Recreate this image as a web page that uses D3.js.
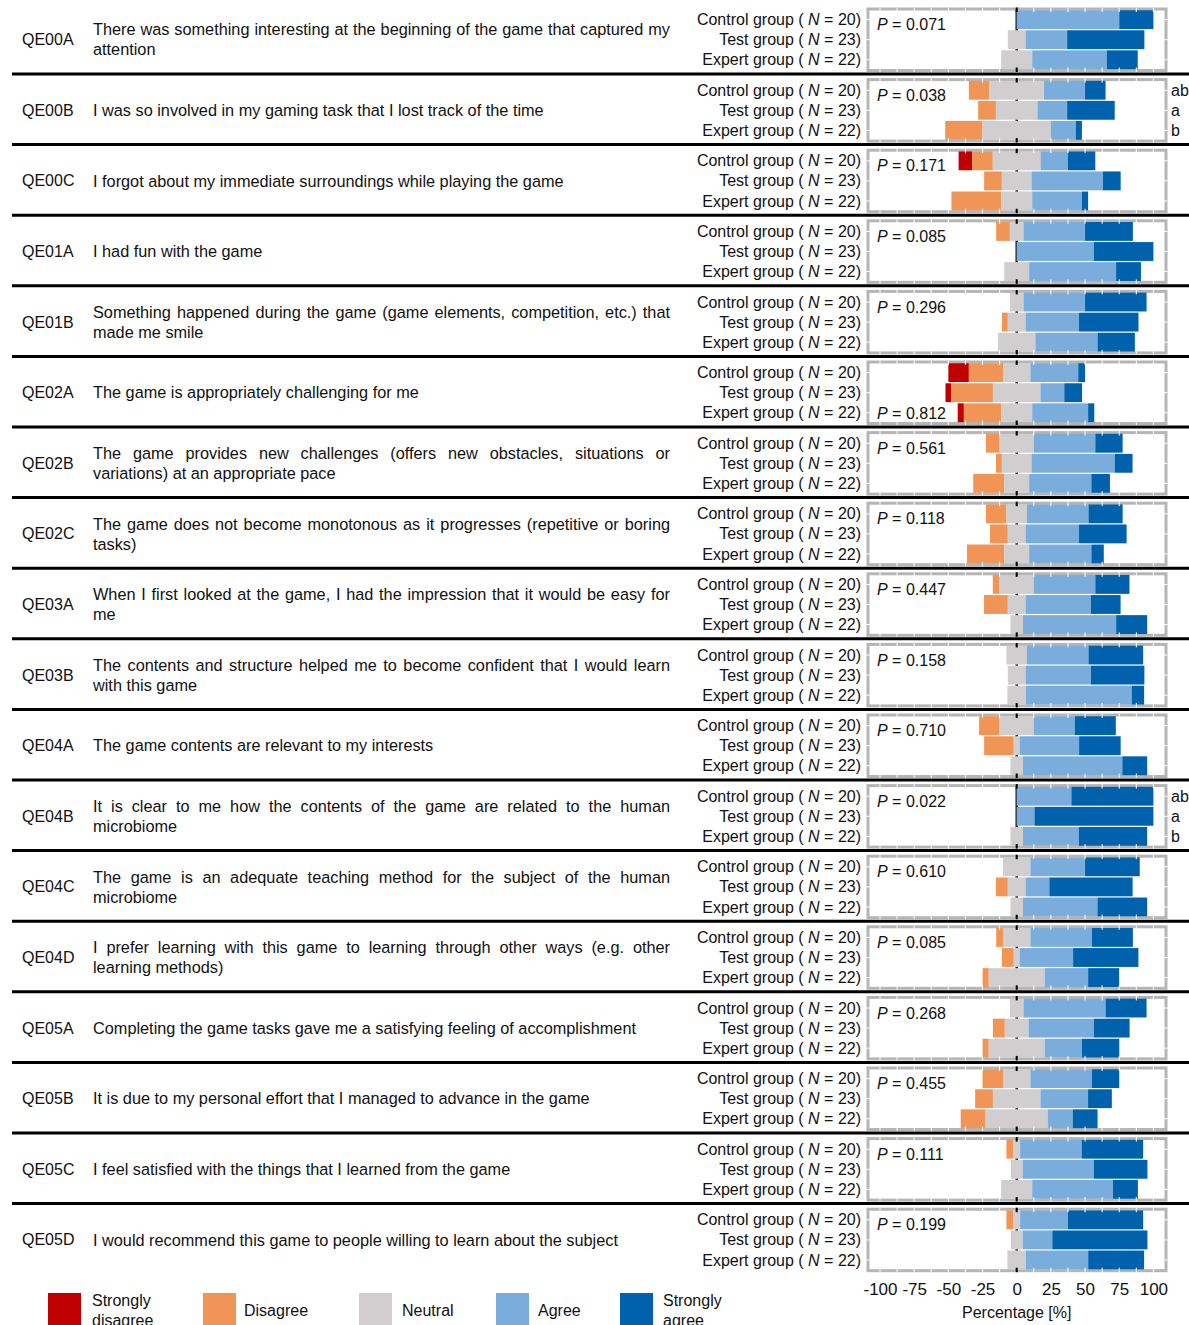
<!DOCTYPE html>
<html>
<head>
<meta charset="utf-8">
<script src="https://cdn.jsdelivr.net/npm/d3@7"></script>
<style>
  body { margin: 0; background: #fff; }
  text { font-family: Arial, "Liberation Sans", sans-serif; fill: #111; }
</style>
</head>
<body>
<svg id="chart" width="1189" height="1325"></svg>
<script>
// Item codes and question texts (line breaks as in the original)
const items = ["QE00A","QE00B","QE00C","QE01A","QE01B","QE02A","QE02B","QE02C","QE03A",
  "QE03B","QE04A","QE04B","QE04C","QE04D","QE05A","QE05B","QE05C","QE05D"];
const questions = [
  ["There was something interesting at the beginning of the game that captured my", "attention"],
  ["I was so involved in my gaming task that I lost track of the time"],
  ["I forgot about my immediate surroundings while playing the game"],
  ["I had fun with the game"],
  ["Something happened during the game (game elements, competition, etc.) that", "made me smile"],
  ["The game is appropriately challenging for me"],
  ["The game provides new challenges (offers new obstacles, situations or", "variations) at an appropriate pace"],
  ["The game does not become monotonous as it progresses (repetitive or boring", "tasks)"],
  ["When I first looked at the game, I had the impression that it would be easy for", "me"],
  ["The contents and structure helped me to become confident that I would learn", "with this game"],
  ["The game contents are relevant to my interests"],
  ["It is clear to me how the contents of the game are related to the human", "microbiome"],
  ["The game is an adequate teaching method for the subject of the human", "microbiome"],
  ["I prefer learning with this game to learning through other ways (e.g. other", "learning methods)"],
  ["Completing the game tasks gave me a satisfying feeling of accomplishment"],
  ["It is due to my personal effort that I managed to advance in the game"],
  ["I feel satisfied with the things that I learned from the game"],
  ["I would recommend this game to people willing to learn about the subject"]
];
const pValues = ["0.071","0.038","0.171","0.085","0.296","0.812","0.561","0.118","0.447",
  "0.158","0.710","0.022","0.610","0.085","0.268","0.455","0.111","0.199"];
// group that carries the P label (bars overlap it otherwise)
const pGroup = ["c","c","c","c","c","e","c","c","c","c","c","c","c","c","c","c","c","c"];
const letterItems = ["QE00B", "QE04B"];
const letters = ["ab", "a", "b"];

const groups = ["Control group", "Test group", "Expert group"];
const groupKeys = ["c", "t", "e"];
const groupN = [20, 23, 22];
const categories = ["Strongly disagree", "Disagree", "Neutral", "Agree", "Strongly agree"];
const colors = ["#c00000", "#f09555", "#d0cece", "#7aaddc", "#0062ad"];
const xTicks = [-100, -75, -50, -25, 0, 25, 50, 75, 100];

// percentages: [strongly disagree, disagree, neutral, agree, strongly agree]
const controlPct = [
  [0,0,0,75,25],[0,15,40,30,15],[10,15,35,20,20],[0,10,10,45,35],[0,0,10,45,45],
  [15,25,20,35,5],[0,10,25,45,20],[0,15,15,45,25],[0,5,25,45,25],[0,0,15,45,40],
  [0,15,25,30,30],[0,0,0,40,60],[0,0,20,40,40],[0,5,20,45,30],[0,0,10,60,30],
  [0,15,20,45,20],[0,5,5,45,45],[0,5,5,35,55]
];
const testPct = [
  [0,0,13.0,30.4,56.5],[0,13.0,30.4,21.7,34.8],[0,13.0,21.7,52.2,13.0],[0,0,0,56.5,43.5],
  [0,4.3,13.0,39.1,43.5],[4.3,30.4,34.8,17.4,13.0],[0,4.3,21.7,60.9,13.0],[0,13.0,13.0,39.1,34.8],
  [0,17.4,13.0,47.8,21.7],[0,0,13.0,47.8,39.1],[0,21.7,4.3,43.5,30.4],[0,0,0,13.0,87.0],
  [0,8.7,13.0,17.4,60.9],[0,8.7,4.3,39.1,47.8],[0,8.7,17.4,47.8,26.1],[0,13.0,34.8,34.8,17.4],
  [0,0,8.7,52.2,39.1],[0,0,8.7,21.7,69.6]
];
const expertPct = [
  [0,0,22.7,54.5,22.7],[0,27.3,50.0,18.2,4.5],[0,36.4,22.7,36.4,4.5],[0,0,18.2,63.6,18.2],
  [0,0,27.3,45.5,27.3],[4.5,27.3,22.7,40.9,4.5],[0,22.7,18.2,45.5,13.6],[0,27.3,18.2,45.5,9.1],
  [0,0,9.1,68.2,22.7],[0,0,13.6,77.3,9.1],[0,0,9.1,72.7,18.2],[0,0,9.1,40.9,50.0],
  [0,0,9.1,54.5,36.4],[0,4.5,40.9,31.8,22.7],[0,4.5,40.9,27.3,27.3],[0,18.2,45.5,18.2,18.2],
  [0,0,22.7,59.1,18.2],[0,0,13.6,45.5,40.9]
];

const svg = d3.select("#chart");

// layout
const rowStep = 70.6;
const firstRowY = 20;
const panelLeft = 868, panelRight = 1166;
const textLeft = 93, textRight = 670;

const x = d3.scaleLinear().domain([-100, 100]).range([880, 1153.4]);
const rowY = d3.scaleLinear().domain([0, 1]).range([firstRowY, firstRowY + rowStep]);
const gy = d3.scaleBand().domain(groupKeys).range([-9.8, 49.2]).paddingInner(0.06);

const pctByGroup = { c: controlPct, t: testPct, e: expertPct };

items.forEach((item, i) => {
  const y0 = rowY(i);
  const row = svg.append("g").attr("transform", `translate(0,${y0})`);

  // separator below the row
  if (i < items.length - 1) {
    row.append("line")
      .attr("x1", 12).attr("x2", 1189)
      .attr("y1", 54).attr("y2", 54)
      .attr("stroke", "#000").attr("stroke-width", 3);
  }

  // item code and question
  const midY = gy("t") + gy.bandwidth() / 2;
  row.append("text")
    .attr("x", 22).attr("y", midY).attr("dy", "0.35em")
    .style("font-size", "16px")
    .text(item);

  const lines = questions[i];
  lines.forEach((ln, k) => {
    const ly = lines.length === 1 ? midY : midY + (k === 0 ? -10 : 10);
    const t = row.append("text")
      .attr("x", textLeft).attr("y", ly).attr("dy", "0.35em")
      .style("font-size", "16.3px")
      .text(ln);
    // justify all lines but the last one
    if (lines.length > 1 && k < lines.length - 1) {
      const w = t.node().getComputedTextLength();
      const spaces = (ln.match(/ /g) || []).length;
      if (spaces > 0) t.style("word-spacing", ((textRight - textLeft - w) / spaces) + "px");
    }
  });

  // group labels
  groupKeys.forEach((gk, j) => {
    const t = row.append("text")
      .attr("x", 861).attr("y", gy(gk) + gy.bandwidth() / 2).attr("dy", "0.35em")
      .attr("text-anchor", "end")
      .style("font-size", "16px");
    t.append("tspan").text(groups[j] + " ( ");
    t.append("tspan").style("font-style", "italic").text("N");
    t.append("tspan").text(" = " + groupN[j] + ")");
  });

  // panel
  const pTop = -11, pBottom = 50.5;
  row.append("rect")
    .attr("x", panelLeft).attr("y", pTop)
    .attr("width", panelRight - panelLeft).attr("height", pBottom - pTop)
    .attr("fill", "#fff").attr("stroke", "#b5b5b5").attr("stroke-width", 3);

  // zero line behind bars
  row.append("line")
    .attr("x1", x(0)).attr("x2", x(0))
    .attr("y1", gy("c")).attr("y2", gy("e") + gy.bandwidth())
    .attr("stroke", "#222").attr("stroke-width", 2.5);

  // stacked diverging bars
  groupKeys.forEach(gk => {
    const vals = pctByGroup[gk][i];
    let start = -(vals[0] + vals[1] + vals[2] / 2);
    vals.forEach((v, c) => {
      if (v > 0) {
        row.append("rect")
          .attr("x", x(start)).attr("y", gy(gk))
          .attr("width", x(start + v) - x(start)).attr("height", gy.bandwidth())
          .attr("fill", colors[c]);
      }
      start += v;
    });
  });

  // ticks on the panel frame
  const minor = d3.range(-100, 100.1, 12.5);
  minor.forEach(v => {
    const col = v === 0 ? "#000" : "#fff";
    const sw = v === 0 ? 2 : 1;
    row.append("line").attr("x1", x(v)).attr("x2", x(v))
      .attr("y1", pTop - 1.5).attr("y2", pTop + 3)
      .attr("stroke", col).attr("stroke-width", sw);
    row.append("line").attr("x1", x(v)).attr("x2", x(v))
      .attr("y1", pBottom - 3).attr("y2", pBottom + 1.5)
      .attr("stroke", col).attr("stroke-width", sw);
  });
  groupKeys.forEach(gk => {
    const ty = gy(gk) + gy.bandwidth() / 2;
    row.append("line").attr("x1", panelLeft - 1.5).attr("x2", panelLeft + 3)
      .attr("y1", ty).attr("y2", ty).attr("stroke", "#fff");
    row.append("line").attr("x1", panelRight - 3).attr("x2", panelRight + 1.5)
      .attr("y1", ty).attr("y2", ty).attr("stroke", "#fff");
  });

  // P value
  const pOffset = pGroup[i] === "c" ? 5 : 1;
  const pt = row.append("text")
    .attr("x", 877).attr("y", gy(pGroup[i]) + gy.bandwidth() / 2 + pOffset).attr("dy", "0.35em")
    .style("font-size", "16px");
  pt.append("tspan").style("font-style", "italic").text("P");
  pt.append("tspan").text(" = " + pValues[i]);

  // significance letters
  if (letterItems.includes(item)) {
    groupKeys.forEach((gk, j) => {
      row.append("text")
        .attr("x", 1171).attr("y", gy(gk) + gy.bandwidth() / 2).attr("dy", "0.35em")
        .style("font-size", "16px")
        .text(letters[j]);
    });
  }
});

// x axis (labels only)
const axisG = svg.append("g")
  .attr("transform", "translate(0,1275)")
  .call(d3.axisBottom(x).tickValues(xTicks).tickSize(0).tickPadding(8).tickFormat(d => String(d)));
axisG.select(".domain").remove();
axisG.selectAll("text")
  .style("font-family", "Arial, 'Liberation Sans', sans-serif")
  .style("font-size", "17px")
  .attr("fill", "#222");

svg.append("text")
  .attr("x", x(0)).attr("y", 1318)
  .attr("text-anchor", "middle")
  .style("font-size", "16px")
  .text("Percentage [%]");

// legend
const legendX = [48, 203, 359, 496, 620];
const legendTextX = [92, 244, 402, 538, 663];
categories.forEach((cat, c) => {
  svg.append("rect")
    .attr("x", legendX[c]).attr("y", 1293)
    .attr("width", 33).attr("height", 34)
    .attr("fill", colors[c]);
  const parts = cat.startsWith("Strongly") ? ["Strongly", cat.split(" ")[1]] : [cat];
  parts.forEach((p, k) => {
    svg.append("text")
      .attr("x", legendTextX[c])
      .attr("y", parts.length === 1 ? 1310 : 1300 + k * 20)
      .attr("dy", "0.35em")
      .style("font-size", "16px")
      .text(p);
  });
});
</script>
</body>
</html>
